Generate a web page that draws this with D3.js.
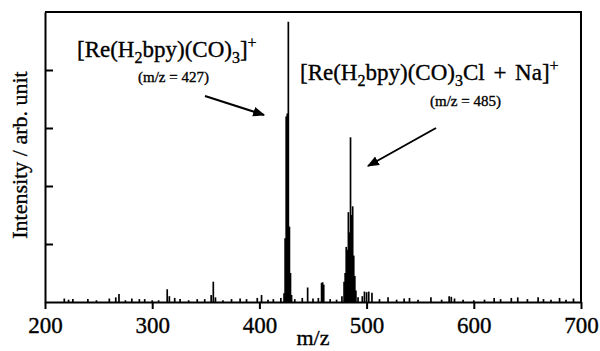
<!DOCTYPE html>
<html>
<head>
<meta charset="utf-8">
<script src="https://cdn.jsdelivr.net/npm/d3@7"></script>
<style>
  body { margin: 0; background: #fff; }
  svg { display: block; font-family: "Liberation Serif", "DejaVu Serif", serif; }
  text { stroke: #000; stroke-width: 0.35px; }
</style>
</head>
<body>
<div id="chart"></div>
<script>
// stick spectrum, m/z and intensity (arb. unit, one y tick = 1)
const mzValues = [218, 222, 226, 240, 248, 260, 266, 269, 275, 281, 288, 293, 300, 306, 314, 316, 321, 326, 334, 342, 349, 355, 357, 359, 366, 374, 382, 388, 398, 402, 408, 413, 420, 423, 424, 425, 426, 427, 428, 429, 430, 433, 440, 445, 450, 455, 458, 459, 460, 466, 472, 477, 479, 480, 481, 482, 483, 484, 485, 486, 487, 488, 489, 490, 492, 496, 498, 500, 502, 505, 512, 520, 528, 535, 540, 548, 560, 570, 577, 579, 582, 590, 600, 610, 619, 625, 635, 641, 650, 660, 665, 672, 680, 686, 693];
const intensities = [0.06, 0.04, 0.05, 0.05, 0.03, 0.06, 0.08, 0.14, 0.03, 0.06, 0.05, 0.05, 0.03, 0.03, 0.22, 0.1, 0.07, 0.05, 0.03, 0.05, 0.05, 0.12, 0.35, 0.08, 0.03, 0.05, 0.06, 0.05, 0.07, 0.12, 0.04, 0.05, 0.07, 0.15, 1.1, 3.2, 3.25, 4.83, 1.3, 0.5, 0.12, 0.05, 0.07, 0.25, 0.06, 0.07, 0.33, 0.34, 0.3, 0.05, 0.04, 0.1, 0.35, 0.5, 0.95, 0.9, 1.55, 1.2, 2.84, 1.5, 1.65, 0.8, 0.45, 0.2, 0.08, 0.1, 0.18, 0.17, 0.18, 0.16, 0.05, 0.08, 0.04, 0.06, 0.07, 0.04, 0.08, 0.04, 0.1, 0.09, 0.06, 0.04, 0.03, 0.04, 0.07, 0.05, 0.07, 0.08, 0.05, 0.08, 0.05, 0.04, 0.07, 0.04, 0.06];
const xTicks = [200, 300, 400, 500, 600, 700];
const yTicks = [1, 2, 3, 4];

const width = 600, height = 351;
const padL = 45, padR = 581, padT = 12, padB = 302;

const svg = d3.select("#chart").append("svg")
  .attr("width", width)
  .attr("height", height);

const x = d3.scaleLinear().domain([200, 700]).range([padL, padR]);
const y = d3.scaleLinear().domain([0, 5]).range([padB, padT]);

// arrow marker
svg.append("defs").append("marker")
  .attr("id", "head")
  .attr("viewBox", "0 0 10 10")
  .attr("refX", 9).attr("refY", 5)
  .attr("markerWidth", 6).attr("markerHeight", 6)
  .attr("markerUnits", "strokeWidth")
  .attr("orient", "auto")
  .append("path")
  .attr("d", "M0,1 L10,5 L0,9 Z")
  .attr("fill", "#000");

// sticks
svg.append("g")
  .selectAll("line")
  .data(mzValues.map((m, i) => ({ m, v: intensities[i] })))
  .join("line")
  .attr("x1", d => x(d.m)).attr("x2", d => x(d.m))
  .attr("y1", y(0)).attr("y2", d => y(d.v))
  .attr("stroke", "#000")
  .attr("stroke-width", 1.7);

// frame top / right
svg.append("path")
  .attr("d", `M${padL},${padT}H${padR}V${padB}`)
  .attr("fill", "none").attr("stroke", "#000").attr("stroke-width", 2);

// y axis: inward ticks, no labels
const yAxis = svg.append("g")
  .attr("transform", `translate(${padL},0)`)
  .call(d3.axisLeft(y).tickValues(yTicks).tickFormat("").tickSizeInner(-8).tickSizeOuter(0));
yAxis.select(".domain").attr("stroke-width", 2);
yAxis.selectAll(".tick line").attr("stroke-width", 2);

// x axis
const xAxis = svg.append("g")
  .attr("transform", `translate(0,${padB})`)
  .call(d3.axisBottom(x).tickValues(xTicks).tickSizeInner(7).tickSizeOuter(0).tickPadding(8));
xAxis.select(".domain").attr("stroke-width", 2);
xAxis.selectAll(".tick line").attr("stroke-width", 2);
xAxis.selectAll(".tick text")
  .attr("font-family", "Liberation Serif, serif")
  .attr("font-size", 23)
  .attr("fill", "#000");

// axis titles
svg.append("text")
  .attr("x", (padL + padR) / 2).attr("y", 345)
  .attr("text-anchor", "middle")
  .attr("font-size", 22)
  .text("m/z");

svg.append("text")
  .attr("transform", `translate(27,155) rotate(-90)`)
  .attr("text-anchor", "middle")
  .attr("font-size", 22)
  .text("Intensity / arb. unit");

// annotations
function formula(g, xPos, yPos, parts, spacing) {
  const t = g.append("text").attr("x", xPos).attr("y", yPos)
    .attr("font-size", 23).attr("word-spacing", spacing || 0);
  let shift = 0;
  parts.forEach(p => {
    const target = p.sub ? 6 : p.sup ? -9 : 0;
    t.append("tspan")
      .attr("dy", target - shift)
      .attr("font-size", p.sub || p.sup ? 16 : 23)
      .text(p.t);
    shift = target;
  });
}

formula(svg, 77, 57, [
  { t: "[Re(H" }, { t: "2", sub: true }, { t: "bpy)(CO)" }, { t: "3", sub: true },
  { t: "]" }, { t: "+", sup: true }
]);
svg.append("text").attr("x", 138).attr("y", 82).attr("font-size", 15).text("(m/z = 427)");

formula(svg, 300, 80, [
  { t: "[Re(H" }, { t: "2", sub: true }, { t: "bpy)(CO)" }, { t: "3", sub: true },
  { t: "Cl + Na]" }, { t: "+", sup: true }
], 3);
svg.append("text").attr("x", 430).attr("y", 106).attr("font-size", 15).text("(m/z = 485)");

svg.append("line")
  .attr("x1", 205).attr("y1", 96).attr("x2", 264).attr("y2", 115)
  .attr("stroke", "#000").attr("stroke-width", 2).attr("marker-end", "url(#head)");
svg.append("line")
  .attr("x1", 436).attr("y1", 128).attr("x2", 368).attr("y2", 166)
  .attr("stroke", "#000").attr("stroke-width", 2).attr("marker-end", "url(#head)");
</script>
</body>
</html>
